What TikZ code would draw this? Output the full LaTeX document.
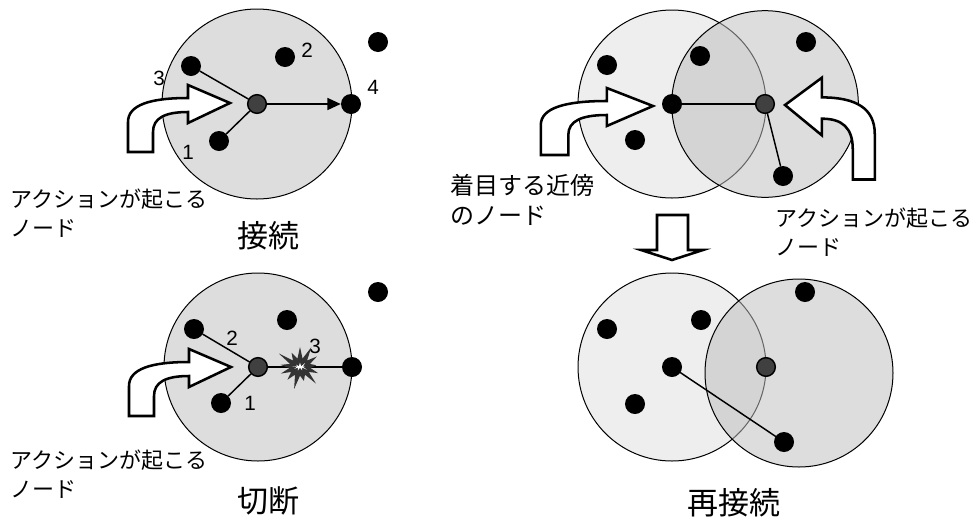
\documentclass[tikz,border=0pt]{standalone}
\usepackage{fontspec}
\setmainfont{Noto Sans CJK JP}
\newfontfamily\numfont{Liberation Sans}
\usepackage{tikz}
\usetikzlibrary{arrows.meta}
\usetikzlibrary{shapes.symbols}
\definecolor{dddddd}{RGB}{221,221,221}
\definecolor{eeeeee}{RGB}{238,238,238}
\definecolor{bebebe}{RGB}{190,190,190}
\definecolor{uuuuuu}{RGB}{64,64,64}
\definecolor{sqsqsq}{RGB}{51,51,51}
\tikzstyle{every node}=[inner sep=0pt]
\tikzstyle{dotnode}=[circle,fill=black,minimum size=15pt]
\tikzstyle{hubnode}=[circle,draw=black,line width=1.1pt,fill=uuuuuu,minimum size=14pt]
\tikzstyle{link}=[line width=1.1pt]
\tikzstyle{zone}=[draw=black,line width=0.75pt,fill=dddddd]
\tikzstyle{bigarrow}=[draw=black,line width=1.9pt,fill=white,line join=miter]
\tikzstyle{numlabel}=[font=\numfont\fontsize{15.5pt}{18pt}\selectfont]
\tikzstyle{notetext}=[font=\fontsize{16.5pt}{21.75pt}\selectfont,align=left,anchor=west]
\tikzstyle{titletext}=[font=\fontsize{23.25pt}{28pt}\selectfont]
\tikzstyle{burstmark}=[starburst,fill=sqsqsq,starburst points=13,starburst point height=12pt,minimum width=40pt,minimum height=37pt]
\tikzset{bentarrow/.pic={
  \draw[bigarrow] (-102,49) -- (-102,19) .. controls (-102,2) and (-80,-5) .. (-42,-5) -- (-42,-18) -- (0,0) -- (-42,20) -- (-42,9) .. controls (-65,9) and (-77,15) .. (-77,29) -- (-77,49) -- cycle;
}}

\begin{document}
\begin{tikzpicture}[line cap=round,line join=round,>={Triangle[length=10pt,width=9pt]},x=0.75pt,y=-0.75pt]
\useasboundingbox (0,0) rectangle (978,522);
% connect
\coordinate (c1) at (257,104);
\draw[zone] (c1) circle[radius=71.25pt];
\node[hubnode] (h1) at (c1) {};
\node[dotnode] (a3) at (191,66) {};
\node[dotnode] (a2) at (285,57) {};
\node[dotnode] (a0) at (378,42) {};
\node[dotnode] (a4) at (351,104) {};
\node[dotnode] (a1) at (219,141) {};
\draw[link] (h1) -- (a3);
\draw[link] (h1) -- (a1);
\draw[link,->] (h1) -- (a4);
\node[numlabel] (n3) at (159,78) {3};
\node[numlabel] (n2) at (307,50) {2};
\node[numlabel] (n4) at (373,87) {4};
\node[numlabel] (n1) at (188,152) {1};
\pic at (230,103) {bentarrow};
\node[notetext] (t1) at (10,213) {アクションが起こる\\ノード};
\node[titletext] (s1) at (268,236) {接続};
% cut
\coordinate (c2) at (258,367);
\draw[zone] (c2) circle[radius=70.5pt];
\node[hubnode] (h2) at (c2) {};
\node[dotnode] (b2) at (194,329) {};
\node[dotnode] (bt) at (287,320) {};
\node[dotnode] (b0) at (378,292) {};
\node[dotnode] (b3) at (352,367) {};
\node[dotnode] (b1) at (221,403) {};
\draw[link] (h2) -- (b2);
\draw[link] (h2) -- (b1);
\draw[link] (h2) -- (b3);
\node[burstmark] (cut) at (300,367) {};
\node[starburst,fill=white,starburst points=9,starburst point height=4pt,minimum width=13pt,minimum height=9pt] (cutcore) at (cut) {};
\node[numlabel] (m2) at (232,338) {2};
\node[numlabel] (m1) at (250,403) {1};
\node[numlabel] (m3) at (315,346) {3};
\pic at (231,367) {bentarrow};
\node[notetext] (t2) at (10,474) {アクションが起こる\\ノード};
\node[titletext] (s2) at (268,501) {切断};
% before reconnect
\coordinate (c3) at (672,104);
\coordinate (c4) at (765,104);
\draw[zone,fill=eeeeee] (c3) circle[radius=70.5pt];
\draw[zone,fill=bebebe,fill opacity=0.52] (c4) circle[radius=70pt];
\node[dotnode] (p) at (c3) {};
\node[hubnode] (h3) at (c4) {};
\node[dotnode] (r1) at (607,65) {};
\node[dotnode] (r2) at (700,56) {};
\node[dotnode] (r3) at (806,42) {};
\node[dotnode] (r4) at (635,140) {};
\node[dotnode] (r5) at (783,176) {};
\draw[link] (p) -- (h3);
\draw[link] (h3) -- (r5);
\pic[xscale=1.1] at (653,106) {bentarrow};
\pic[xscale=-0.88,yscale=1.52] at (785,105) {bentarrow};
\node[notetext,font=\fontsize{18pt}{23pt}\selectfont] (t3) at (450,200) {着目する近傍\\のノード};
\node[notetext] (t4) at (775,232) {アクションが起こる\\ノード};
\draw[bigarrow] (657,215) -- (688,215) -- (688,250) -- (703,250) -- (672,260) -- (641,250) -- (657,250) -- cycle;
% after reconnect
\coordinate (c5) at (672,367);
\coordinate (c6) at (799,373);
\draw[zone,fill=eeeeee] (c5) circle[radius=70.5pt];
\draw[zone,fill=bebebe,fill opacity=0.52] (c6) circle[radius=70.5pt];
\node[dotnode] (q) at (c5) {};
\node[hubnode] (h4) at (766,367) {};
\node[dotnode] (k1) at (607,329) {};
\node[dotnode] (k2) at (701,320) {};
\node[dotnode] (k3) at (635,404) {};
\node[dotnode] (k4) at (784,442) {};
\node[dotnode] (k5) at (805,292) {};
\draw[link] (q) -- (k4);
\node[titletext] (s3) at (734,503) {再接続};
\end{tikzpicture}
\end{document}
